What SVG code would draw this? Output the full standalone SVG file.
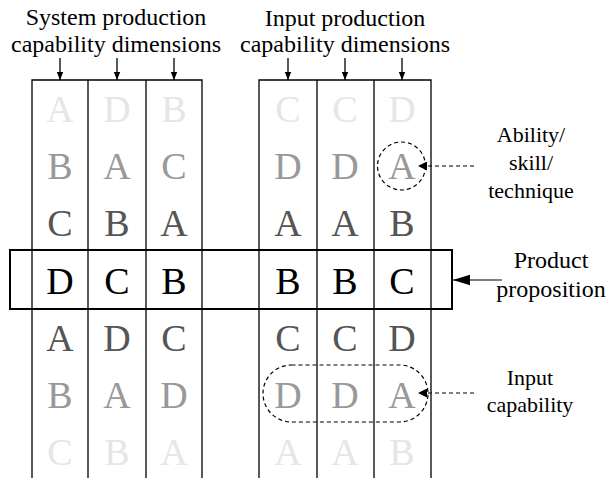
<svg xmlns="http://www.w3.org/2000/svg" width="607" height="478" viewBox="0 0 607 478" font-family="'Liberation Serif', 'Times New Roman', Times, 'DejaVu Serif', serif">
<style>
text{font-family:'Liberation Serif','Times New Roman',Times,'DejaVu Serif',serif;}
.t{font-size:24px;fill:#000;text-anchor:middle;}
.l{font-size:22px;fill:#000;text-anchor:middle;}
.g{font-size:38px;text-anchor:middle;}
.r1,.r7{fill:#e6e6e6;}
.r2,.r6{fill:#999999;}
.r3,.r5{fill:#555555;}
.r4{fill:#000000;}
.col{fill:none;stroke:#000;stroke-width:1.3;}
.dash{fill:none;stroke:#000;stroke-width:1.2;stroke-dasharray:4 3;}
.arr{fill:none;stroke:#000;stroke-width:1.3;}
</style>
<defs>
<marker id="hd" viewBox="0 0 10 10" refX="10" refY="5" markerWidth="8" markerHeight="8" markerUnits="userSpaceOnUse" orient="auto"><path d="M0,1 L10,5 L0,9 z" fill="#000"/></marker>
<marker id="hb" viewBox="0 0 16 10" refX="16" refY="5" markerWidth="17" markerHeight="11" markerUnits="userSpaceOnUse" orient="auto"><path d="M0,0 L16,5 L0,10 z" fill="#000"/></marker>
<marker id="hm" viewBox="0 0 10 10" refX="10" refY="5" markerWidth="10" markerHeight="9" markerUnits="userSpaceOnUse" orient="auto"><path d="M0,0 L10,5 L0,10 z" fill="#000"/></marker>
</defs>
<rect width="607" height="478" fill="#fff"/>

<g id="title-system">
<text class="t" x="116" y="25">System production</text>
<text class="t" x="116" y="52">capability dimensions</text>
</g>
<g id="title-input">
<text class="t" x="345" y="26">Input production</text>
<text class="t" x="345" y="52">capability dimensions</text>
</g>

<g id="system-columns">
<path class="col" d="M32,478 V80 H202 V478 M88,80 V478 M146,80 V478"/>
<g id="sys-col1">
<text class="g r1" x="60" y="122">A</text>
<text class="g r2" x="60" y="179">B</text>
<text class="g r3" x="60" y="236">C</text>
<text class="g r4" x="60" y="294">D</text>
<text class="g r5" x="60" y="351">A</text>
<text class="g r6" x="60" y="408">B</text>
<text class="g r7" x="60" y="465">C</text>
</g>
<g id="sys-col2">
<text class="g r1" x="117" y="122">D</text>
<text class="g r2" x="117" y="179">A</text>
<text class="g r3" x="117" y="236">B</text>
<text class="g r4" x="117" y="294">C</text>
<text class="g r5" x="117" y="351">D</text>
<text class="g r6" x="117" y="408">A</text>
<text class="g r7" x="117" y="465">B</text>
</g>
<g id="sys-col3">
<text class="g r1" x="174" y="122">B</text>
<text class="g r2" x="174" y="179">C</text>
<text class="g r3" x="174" y="236">A</text>
<text class="g r4" x="174" y="294">B</text>
<text class="g r5" x="174" y="351">C</text>
<text class="g r6" x="174" y="408">D</text>
<text class="g r7" x="174" y="465">A</text>
</g>
</g>

<g id="input-columns">
<path class="col" d="M259,478 V80 H431 V478 M317,80 V478 M374,80 V478"/>
<g id="inp-col1">
<text class="g r1" x="288" y="122">C</text>
<text class="g r2" x="288" y="179">D</text>
<text class="g r3" x="288" y="236">A</text>
<text class="g r4" x="288" y="294">B</text>
<text class="g r5" x="288" y="351">C</text>
<text class="g r6" x="288" y="408">D</text>
<text class="g r7" x="288" y="465">A</text>
</g>
<g id="inp-col2">
<text class="g r1" x="345" y="122">C</text>
<text class="g r2" x="345" y="179">D</text>
<text class="g r3" x="345" y="236">A</text>
<text class="g r4" x="345" y="294">B</text>
<text class="g r5" x="345" y="351">C</text>
<text class="g r6" x="345" y="408">D</text>
<text class="g r7" x="345" y="465">A</text>
</g>
<g id="inp-col3">
<text class="g r1" x="402" y="122">D</text>
<text class="g r2" x="402" y="179">A</text>
<text class="g r3" x="402" y="236">B</text>
<text class="g r4" x="402" y="294">C</text>
<text class="g r5" x="402" y="351">D</text>
<text class="g r6" x="402" y="408">A</text>
<text class="g r7" x="402" y="465">B</text>
</g>
</g>

<g id="product-proposition-box">
<rect x="10" y="250" width="442" height="59" fill="none" stroke="#000" stroke-width="2"/>
</g>

<g id="ability-circle">
<circle class="dash" cx="401.5" cy="166" r="24"/>
</g>
<g id="input-capability-outline">
<rect class="dash" x="263" y="365" width="165" height="57" rx="28.5" ry="28.5"/>
</g>

<g id="label-ability">
<text class="l" x="531" y="142">Ability/</text>
<text class="l" x="531" y="170">skill/</text>
<text class="l" x="531" y="198">technique</text>
</g>
<g id="label-product">
<text class="t" x="551" y="268">Product</text>
<text class="t" x="551" y="297">proposition</text>
</g>
<g id="label-input-capability">
<text class="l" x="530" y="385">Input</text>
<text class="l" x="530" y="412">capability</text>
</g>

<g id="connectors">
<line class="arr" x1="60" y1="58" x2="60" y2="80" marker-end="url(#hd)"/>
<line class="arr" x1="117" y1="58" x2="117" y2="80" marker-end="url(#hd)"/>
<line class="arr" x1="174" y1="58" x2="174" y2="80" marker-end="url(#hd)"/>
<line class="arr" x1="288" y1="58" x2="288" y2="80" marker-end="url(#hd)"/>
<line class="arr" x1="345" y1="58" x2="345" y2="80" marker-end="url(#hd)"/>
<line class="arr" x1="402" y1="58" x2="402" y2="80" marker-end="url(#hd)"/>
<line x1="502" y1="280" x2="453" y2="280" stroke="#555" stroke-width="1.5" marker-end="url(#hb)"/>
<line class="dash" x1="474" y1="166" x2="418" y2="166" marker-end="url(#hm)"/>
<line class="dash" x1="474" y1="393" x2="418" y2="393" marker-end="url(#hm)"/>
</g>
</svg>
